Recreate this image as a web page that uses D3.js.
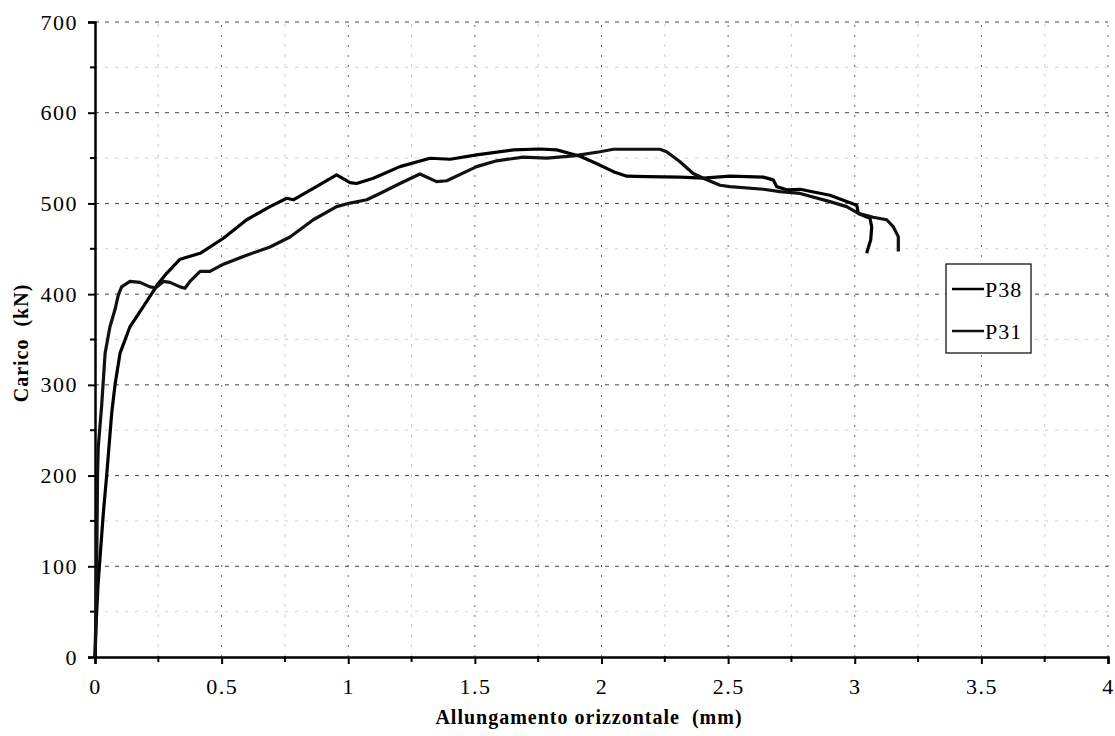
<!DOCTYPE html>
<html>
<head>
<meta charset="utf-8">
<script src="https://cdn.jsdelivr.net/npm/d3@7"></script>
<style>
  html, body { margin: 0; padding: 0; background: #fff; }
  svg { display: block; }
</style>
</head>
<body>
<svg id="chart" width="1115" height="736"></svg>
<script>
// ---- data ----
const xTicks = [0, 0.5, 1, 1.5, 2, 2.5, 3, 3.5, 4];
const yTicks = [0, 100, 200, 300, 400, 500, 600, 700];
const xMinor = [0.25, 0.75, 1.25, 1.75, 2.25, 2.75, 3.25, 3.75];
const yMinor = [50, 150, 250, 350, 450, 550, 650];
const seriesNames = ["P38", "P31"];

// P38 (x mm, load kN)
const p38 = [
  [0,0],[0.005,40],[0.012,80],[0.02,110],[0.033,159],[0.046,200],[0.066,269],[0.079,300],
  [0.099,335],[0.138,364],[0.19,386],[0.23,403],[0.245,410],[0.283,423],[0.336,438.5],
  [0.415,445],[0.507,461.6],[0.599,482],[0.691,496.5],[0.757,505.7],[0.783,504],
  [0.862,516.7],[0.954,531.4],[1.007,523],[1.033,522],[1.099,527.8],[1.204,540.6],
  [1.323,549.8],[1.402,548.7],[1.507,553.5],[1.652,559],[1.757,560],[1.823,559],
  [1.876,555],[1.915,552],[1.98,544],[2.047,535],[2.1,530],[2.178,529.6],[2.31,529],
  [2.402,527.8],[2.507,530],[2.639,529],[2.678,526],[2.692,518.5],[2.731,515],
  [2.784,515.6],[2.902,509],[2.968,502],[3.008,498],[3.014,489],[3.06,483.7],
  [3.067,474],[3.063,459.8],[3.047,445]
];
// P31 (x mm, load kN)
const p31 = [
  [0,0],[0.004,50],[0.007,110],[0.01,200],[0.013,232],[0.026,276],[0.04,335],[0.059,364],
  [0.079,383],[0.092,399],[0.105,408],[0.138,414],[0.178,413],[0.217,408],[0.24,407],
  [0.27,414],[0.296,413],[0.336,408],[0.355,406.5],[0.375,414],[0.415,425],[0.454,425],
  [0.507,433],[0.599,443],[0.691,452],[0.77,463],[0.862,482],[0.954,496.5],[1.007,500.4],
  [1.073,504],[1.125,511],[1.204,522],[1.283,532.5],[1.349,524],[1.389,525],[1.507,540.6],
  [1.586,547],[1.691,551],[1.784,550],[1.889,552.4],[1.994,557],[2.047,559.7],[2.231,559.7],
  [2.257,557],[2.31,546],[2.362,533],[2.402,527.8],[2.468,520],[2.507,518.5],[2.639,515.6],
  [2.705,513],[2.784,511],[2.902,502],[2.968,496.5],[3.014,489],[3.073,484.8],[3.126,482],
  [3.152,474.4],[3.172,463.4],[3.172,447]
];
const seriesData = [p38, p31];
const seriesColors = ["#000", "#111"];

const FONT = "'Liberation Serif', 'Times New Roman', serif";

// ---- chart ----
const svg = d3.select("#chart");
const x = d3.scaleLinear().domain([0, 4]).range([95, 1108]);
const y = d3.scaleLinear().domain([0, 700]).range([657, 22]);

// minor grid
const g = svg.append("g");
g.selectAll(".hminor").data(yMinor).join("line")
  .attr("x1", x(0)).attr("x2", x(4))
  .attr("y1", d => y(d)).attr("y2", d => y(d))
  .attr("stroke", "#cfcfcf").attr("stroke-width", 1).attr("stroke-dasharray", "3,7");
g.selectAll(".vminor").data(xMinor).join("line")
  .attr("y1", y(0)).attr("y2", y(700))
  .attr("x1", d => x(d)).attr("x2", d => x(d))
  .attr("stroke", "#cfcfcf").attr("stroke-width", 1).attr("stroke-dasharray", "3,7");
// major grid
g.selectAll(".hmajor").data(yTicks.filter(d => d > 0)).join("line")
  .attr("x1", x(0)).attr("x2", x(4))
  .attr("y1", d => y(d)).attr("y2", d => y(d))
  .attr("stroke", "#444").attr("stroke-width", 1).attr("stroke-dasharray", "4,6");
g.selectAll(".vmajor").data(xTicks.filter(d => d > 0)).join("line")
  .attr("y1", y(0)).attr("y2", y(700))
  .attr("x1", d => x(d)).attr("x2", d => x(d))
  .attr("stroke", "#666").attr("stroke-width", 1).attr("stroke-dasharray", "2,8");

// axes
const yAxis = d3.axisLeft(y).tickValues(yTicks).tickSize(7).tickPadding(10).tickFormat(d3.format("d"));
const yAx = svg.append("g").attr("transform", `translate(${x(0)},0)`).call(yAxis);
const xAxis = d3.axisBottom(x).tickValues(xTicks).tickSize(7).tickPadding(14).tickFormat(d => String(d));
const xAx = svg.append("g").attr("transform", `translate(0,${y(0)})`).call(xAxis);
[yAx, xAx].forEach(a => {
  a.attr("font-family", FONT).attr("font-size", 22);
  a.select(".domain").attr("stroke", "#000").attr("stroke-width", 2.5);
  a.selectAll(".tick line").attr("stroke", "#000").attr("stroke-width", 2);
  a.selectAll(".tick text").attr("fill", "#000").attr("letter-spacing", 1.5);
});
// minor ticks
svg.append("g").selectAll("line").data(yMinor).join("line")
  .attr("x1", x(0) - 5).attr("x2", x(0) + 1)
  .attr("y1", d => y(d)).attr("y2", d => y(d))
  .attr("stroke", "#000").attr("stroke-width", 2);
svg.append("g").selectAll("line").data(xMinor).join("line")
  .attr("y1", y(0) - 1).attr("y2", y(0) + 5)
  .attr("x1", d => x(d)).attr("x2", d => x(d))
  .attr("stroke", "#000").attr("stroke-width", 2);

// series
const line = d3.line().x(d => x(d[0])).y(d => y(d[1]));
svg.append("g").selectAll("path").data(seriesData).join("path")
  .attr("d", line)
  .attr("fill", "none")
  .attr("stroke", (d, i) => seriesColors[i])
  .attr("stroke-width", 3.2)
  .attr("stroke-linejoin", "round");

// titles
svg.append("text")
  .attr("x", 589).attr("y", 724)
  .attr("text-anchor", "middle")
  .attr("font-family", FONT)
  .attr("font-size", 20).attr("font-weight", "bold")
  .attr("letter-spacing", 1)
  .style("white-space", "pre")
  .text("Allungamento orizzontale  (mm)");
svg.append("text")
  .attr("transform", "translate(28,343) rotate(-90)")
  .attr("text-anchor", "middle")
  .attr("font-family", FONT)
  .attr("font-size", 20).attr("font-weight", "bold")
  .attr("letter-spacing", 1)
  .style("white-space", "pre")
  .text("Carico  (kN)");

// legend
const leg = svg.append("g");
leg.append("rect").attr("x", 946).attr("y", 264).attr("width", 85).attr("height", 89)
  .attr("fill", "#fff").attr("stroke", "#000").attr("stroke-width", 1.2);
const ly = [289, 331];
seriesNames.forEach((n, i) => {
  leg.append("line").attr("x1", 952).attr("x2", 984).attr("y1", ly[i]).attr("y2", ly[i])
    .attr("stroke", seriesColors[i]).attr("stroke-width", 2.5);
  leg.append("text").attr("x", 985).attr("y", ly[i] + 8)
    .attr("font-family", FONT).attr("font-size", 22).attr("letter-spacing", 1).text(n);
});
</script>
</body>
</html>
